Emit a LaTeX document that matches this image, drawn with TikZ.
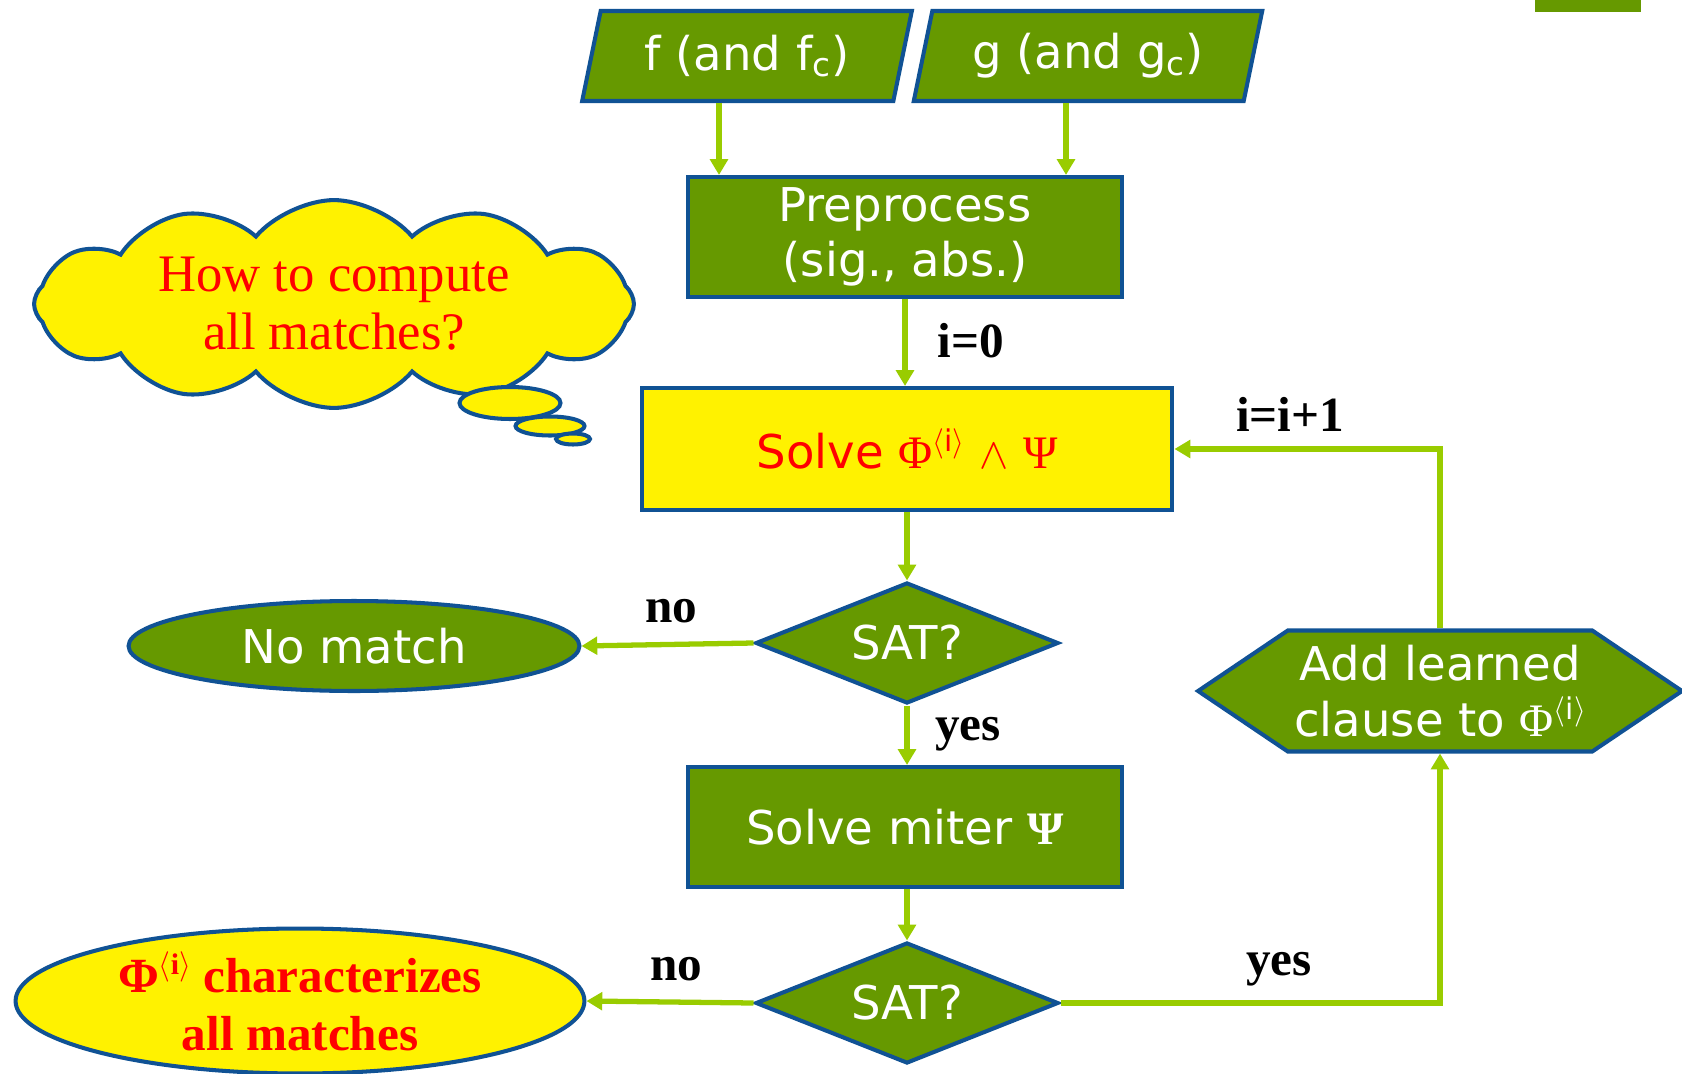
\documentclass[tikz,border=0pt]{standalone}
\usepackage{fontspec}
\setmainfont{DejaVu Sans}
\newfontfamily\timesf{Liberation Serif}
\usetikzlibrary{arrows.meta,shapes.geometric,shapes.symbols}

\definecolor{boxgreen}{HTML}{669900}
\definecolor{edgeblue}{RGB}{16,82,148}
\definecolor{flowgreen}{HTML}{99CC00}

\newcommand{\boxfont}{\fontsize{26.5}{31.5}\selectfont}
\newcommand{\tagfont}{\timesf\bfseries\fontsize{28}{30}\selectfont}
\newcommand{\thinkfont}{\timesf\fontsize{30}{33}\selectfont}
% Phi with the <i> index
\newcommand{\PhiI}{{\timesf Φ}\raisebox{.36em}{\fontsize{17}{17}\selectfont$\langle$i$\rangle$}}

\begin{document}
\begin{tikzpicture}[x=0.02cm,y=-0.02cm,
greenbox/.style = {draw=edgeblue,line width=2.3pt,fill=boxgreen,text=white,
        align=center,inner sep=0pt,font=\boxfont},
yellowbox/.style = {greenbox,fill=yellow,text=red},
inbox/.style = {greenbox,trapezium,trapezium left angle=73,
        trapezium right angle=107,trapezium stretches=true,minimum height=1.8cm},
decide/.style = {greenbox,diamond,aspect=2.5,minimum width=6.06cm,minimum height=2.42cm},
bubble/.style = {ellipse,draw=edgeblue,line width=2.3pt,fill=yellow,inner sep=0pt},
flow/.style = {line width=3pt,flowgreen,-{Triangle[length=9pt,width=10pt]}},
tag/.style = {font=\tagfont,inner sep=0pt}]

        \useasboundingbox (0,0) rectangle (1682,1074);
        \fill[boxgreen] (1535,0) rectangle (1641,12);

        \coordinate (F_C) at ( 747, 56 );
        \coordinate (G_C) at ( 1088, 56 );
        \coordinate (F_Out) at ( 719, 101 );
        \coordinate (G_Out) at ( 1066, 101 );
        \coordinate (Pre_C) at ( 905, 237 );
        \coordinate (Solve_C) at ( 907, 449 );
        \coordinate (Sat1_C) at ( 907, 643 );
        \coordinate (NoM_C) at ( 354, 646 );
        \coordinate (Miter_C) at ( 905, 827 );
        \coordinate (Sat2_C) at ( 907, 1003 );
        \coordinate (All_C) at ( 300, 1001 );
        \coordinate (Add_C) at ( 1440, 691 );
        \coordinate (Cloud_C) at ( 334, 304 );

        % inputs and main chain
        \node[inbox,minimum width=6.6cm] (f_in) at (F_C) {f (and f\textsubscript{c})};
        \node[inbox,minimum width=6.98cm] (g_in) at (G_C) {g (and g\textsubscript{c})};
        \node[greenbox,minimum width=8.7cm,minimum height=2.4cm] (pre) at (Pre_C) {Preprocess\\(sig., abs.)};
        \node[yellowbox,minimum width=10.62cm,minimum height=2.44cm] (solve) at (Solve_C)
                {Solve \PhiI\ $\wedge$ {\timesf Ψ}};
        \node[decide] (sat1) at (Sat1_C) {SAT?};
        \node[greenbox,ellipse,minimum width=9.02cm,minimum height=1.8cm] (nomatch) at (NoM_C) {No match};
        \node[greenbox,minimum width=8.7cm,minimum height=2.4cm] (miter) at (Miter_C)
                {Solve miter {\timesf\bfseries Ψ}};
        \node[decide] (sat2) at (Sat2_C) {SAT?};
        \node[yellowbox,ellipse,minimum width=11.38cm,minimum height=2.9cm,
                font=\timesf\bfseries\fontsize{28}{33}\selectfont] (allm) at (All_C)
                {\PhiI\ characterizes\\all matches};
        \node[greenbox,signal,signal to=west and east,signal pointer angle=68,
                minimum width=9.68cm,minimum height=2.42cm,font=\fontsize{26.5}{32}\selectfont] (addcl) at (Add_C)
                {Add learned\\clause to \PhiI};

        % thought cloud
        \node[cloud,cloud puffs=12,cloud puff arc=100,aspect=3.4,draw=edgeblue,line width=2.3pt,
                fill=yellow,text=red,font=\thinkfont,align=center,
                minimum width=12cm,minimum height=3.1cm] (think) at (Cloud_C)
                {How to compute\\all matches?};
        \node[bubble,minimum width=2.02cm,minimum height=0.64cm] (bub1) at (510,403) {};
        \node[bubble,minimum width=1.38cm,minimum height=0.38cm] (bub2) at (550,426) {};
        \node[bubble,minimum width=0.68cm,minimum height=0.22cm] (bub3) at (573,439) {};

        % connectors
        \draw[flow] (f_in.south -| F_Out) -- (pre.north -| F_Out);
        \draw[flow] (g_in.south -| G_Out) -- (pre.north -| G_Out);
        \draw[flow] (pre.south) -- (pre.south |- solve.north);
        \draw[flow] (solve.south) -- (sat1.north);
        \draw[flow] (sat1.west) -- (nomatch.east);
        \draw[flow] (sat1.south) -- (miter.north -| sat1.south);
        \draw[flow] (miter.south -| sat2.north) -- (sat2.north);
        \draw[flow] (sat2.west) -- (allm.east);
        \draw[flow] (sat2.east) -| (addcl.south);
        \draw[flow] (addcl.north) |- (solve.east);

        \node[tag] (lab_i0) at ( 971, 341 ) {i=0};
        \node[tag] (lab_no1) at ( 671, 611 ) {no};
        \node[tag] (lab_yes1) at ( 968, 734 ) {yes};
        \node[tag] (lab_no2) at ( 676, 969 ) {no};
        \node[tag] (lab_yes2) at ( 1279, 969 ) {yes};
        \node[tag] (lab_inc) at ( 1290, 414 ) {i=i+1};

    \end{tikzpicture}
\end{document}
